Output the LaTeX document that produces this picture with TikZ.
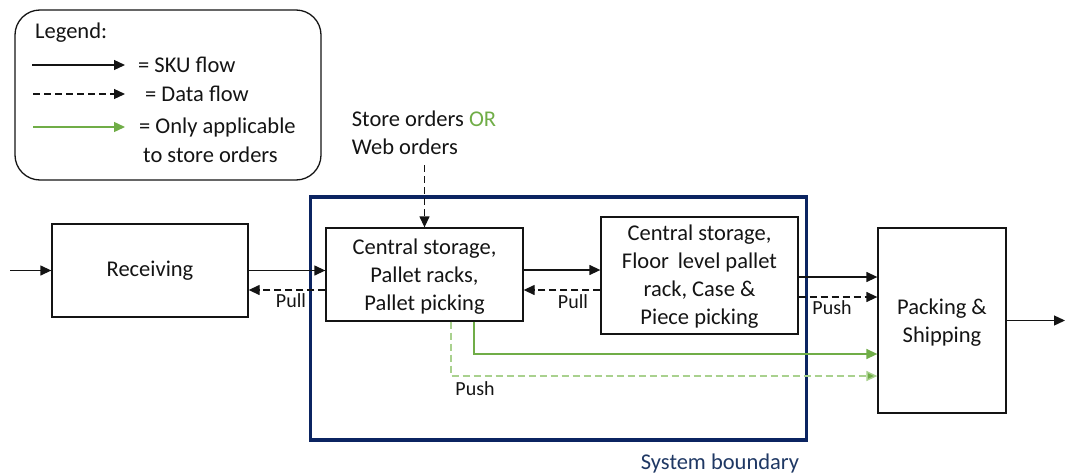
\documentclass[tikz,border=0pt]{standalone}
\usepackage{fontspec}
\setmainfont{Carlito}
\usetikzlibrary{arrows.meta}
\definecolor{navyline}{HTML}{0B2461}
\definecolor{navytext}{HTML}{1F3864}
\definecolor{storegreen}{HTML}{70AD47}
\definecolor{storegreenlt}{HTML}{A9D18E}
\definecolor{ink}{HTML}{141414}
\tikzset{
  every node/.style={font=\fontsize{22.5pt}{28pt}\selectfont, text=ink},
  procbox/.style={draw=ink, line width=1.3pt, align=center, inner sep=0pt},
  tip/.style={-{Triangle[length=11pt,width=10pt]}},
  sku/.style={tip, draw=ink, line width=1.3pt},
  dataflow/.style={tip, draw=ink, line width=1.3pt, dash pattern=on 7pt off 4pt},
  storeflow/.style={tip, draw=storegreen, line width=1.4pt},
  storedata/.style={-{Triangle[length=11pt,width=10pt,fill=storegreen]}, draw=storegreenlt, line width=1.4pt, dash pattern=on 7pt off 4pt},
  flowlabel/.style={font=\fontsize{20pt}{22pt}\selectfont, inner sep=0pt},
  lower/.style={yshift=-2.5pt},
}
\begin{document}
\begin{tikzpicture}[x=1pt, y=-1pt]
\useasboundingbox (0,0) rectangle (1065,474);

% legend
\node[draw=ink, line width=1.3pt, rounded corners=25pt, minimum width=306pt, minimum height=170pt] (legend) at (168,95) {};
\node[anchor=west, inner sep=0pt] (legtitle) at (35,33) {Legend:};
\coordinate (skuA) at (32,65);   \coordinate (skuB) at (125,65);
\coordinate (datA) at (33,94);   \coordinate (datB) at (125,94);
\coordinate (grnA) at (33,127);  \coordinate (grnB) at (125,127);
\draw[sku] (skuA) -- (skuB);
\draw[dataflow] (datA) -- (datB);
\draw[storeflow] (grnA) -- (grnB);
\node[anchor=west, inner sep=0pt] (legsku) at (138,65) {= SKU flow};
\node[anchor=west, inner sep=0pt] (legdata) at (145,94) {= Data flow};
\node[anchor=west, inner sep=0pt] (legstore) at (139,127) {= Only applicable};
\node[anchor=west, inner sep=0pt] (legstore2) at (143,155) {to store orders};

% order source
\node[align=left, inner sep=0pt] (orders) at (424,133) {Store orders \textcolor{storegreen}{OR}\\Web orders};
\coordinate (ordfoot) at (424.5,165);

% system boundary
\node[draw=navyline, line width=3.4pt, minimum width=496pt, minimum height=243pt, inner sep=0pt] (sysb) at (558.5,318.5) {};
\node[text=navytext, inner sep=0pt] (sysblabel) at (720,463) {System boundary};

% process boxes
\node[procbox, minimum width=196pt, minimum height=93pt] (recv) at (150,270.5) {Receiving};
\node[procbox, minimum width=197pt, minimum height=93pt] (cs1) at (424.5,274.5) {};
\node[align=center, inner sep=0pt] (cs1text) at ([yshift=-2.5pt]cs1.center) {Central storage,\\Pallet racks,\\Pallet picking};
\node[procbox, minimum width=197pt, minimum height=117pt] (cs2) at (699.5,275.5) {};
\node[align=center, inner sep=0pt] (cs2text) at ([yshift=-1.5pt]cs2.center) {Central storage,\\Floor\, level pallet\\rack, Case \&\\Piece picking};
\node[procbox, minimum width=128pt, minimum height=185pt] (pack) at (942,320.5) {};
\node[align=center, inner sep=0pt] (packtext) at ([yshift=-2.5pt]pack.center) {Packing \&\\Shipping};

\coordinate (inflow) at (10,270.5);
\coordinate (outflow) at (1065,320.5);

% SKU flows
\draw[sku] (inflow) -- (recv.west);
\draw[sku] (recv.east) -- (recv.east -| cs1.west);
\draw[sku] ([yshift=4.5pt]cs1.east) -- ([yshift=4.5pt]cs1.east -| cs2.west);
\draw[sku] ([yshift=-1.5pt]cs2.east) -- ([yshift=-1.5pt]cs2.east -| pack.west);
\draw[sku] (pack.east) -- (outflow);

% data flows
\draw[dataflow] (ordfoot) -- (cs1.north);
\draw[dataflow] ([yshift=-15.5pt]cs1.west) -- ([yshift=-15.5pt]cs1.west -| recv.east);
\draw[dataflow] ([yshift=-14.5pt]cs2.west) -- ([yshift=-14.5pt]cs2.west -| cs1.east);
\draw[dataflow] ([yshift=-21.5pt]cs2.east) -- ([yshift=-21.5pt]cs2.east -| pack.west);

% store-order flows
\draw[storeflow] ([xshift=49.5pt]cs1.south) |- ([yshift=-33.5pt]pack.west);
\draw[storedata] ([xshift=26.5pt]cs1.south) |- ([yshift=-55.5pt]pack.west);

% flow labels
\node[flowlabel] (pull1) at (291,301) {Pull};
\node[flowlabel] (pull2) at (573,302) {Pull};
\node[flowlabel] (push1) at (832,308) {Push};
\node[flowlabel] (push2) at (475,389) {Push};
\end{tikzpicture}
\end{document}
